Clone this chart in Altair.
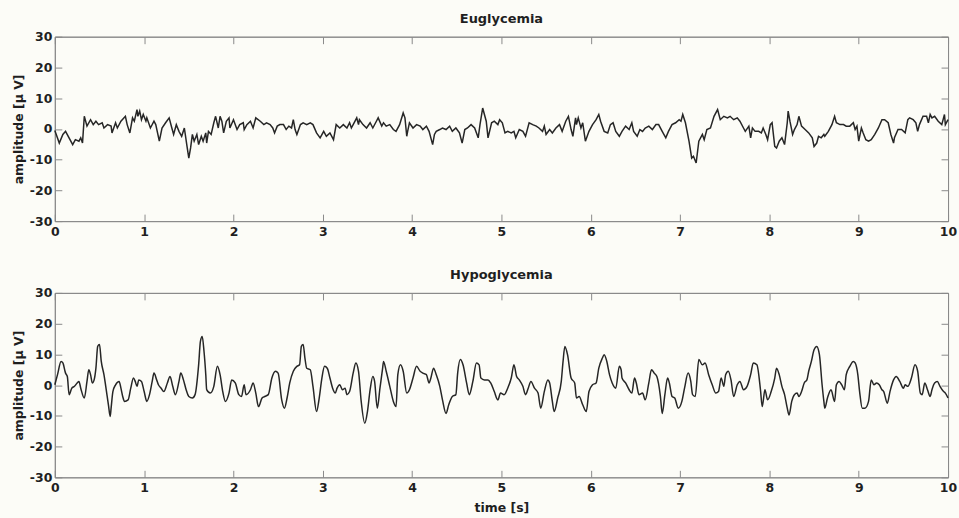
import altair as alt
import pandas as pd

FONT = "DejaVu Sans"
INK = "#1f1f1f"
FRAME = "#8a8a8a"
PAPER = "#fcfcf7"
TICK_IN = 7  # inward tick length in px

# axis tick positions
time_ticks = [0, 1, 2, 3, 4, 5, 6, 7, 8, 9, 10]
amp_ticks = [-30, -20, -10, 0, 10, 20, 30]

# EEG trace recorded during euglycemia (time in s, amplitude in microvolts)
eu_time = [
    0.00, 0.05, 0.09, 0.12, 0.20, 0.23, 0.27, 0.29, 0.31, 0.33, 0.36, 0.40, 0.43, 0.46, 0.49,
    0.53, 0.55, 0.59, 0.63, 0.64, 0.68, 0.70, 0.74, 0.79, 0.81, 0.84, 0.87, 0.89, 0.92, 0.93,
    0.95, 0.97, 0.99, 1.02, 1.03, 1.07, 1.11, 1.13, 1.17, 1.20, 1.24, 1.28, 1.31, 1.33, 1.36,
    1.39, 1.42, 1.45, 1.48, 1.50, 1.52, 1.54, 1.56, 1.59, 1.61, 1.64, 1.66, 1.69, 1.70, 1.72,
    1.75, 1.78, 1.80, 1.83, 1.85, 1.87, 1.89, 1.92, 1.95, 1.96, 2.00, 2.04, 2.07, 2.11, 2.12,
    2.15, 2.19, 2.22, 2.25, 2.30, 2.34, 2.37, 2.41, 2.44, 2.46, 2.49, 2.52, 2.56, 2.59, 2.62,
    2.65, 2.67, 2.69, 2.71, 2.75, 2.78, 2.82, 2.86, 2.89, 2.93, 2.97, 3.01, 3.04, 3.08, 3.12,
    3.15, 3.19, 3.23, 3.27, 3.30, 3.32, 3.34, 3.38, 3.40, 3.41, 3.45, 3.49, 3.53, 3.56, 3.60,
    3.62, 3.66, 3.68, 3.71, 3.75, 3.79, 3.82, 3.86, 3.90, 3.92, 3.94, 3.95, 3.97, 4.01, 4.05,
    4.09, 4.12, 4.16, 4.19, 4.23, 4.25, 4.27, 4.31, 4.34, 4.38, 4.42, 4.45, 4.49, 4.53, 4.56,
    4.59, 4.62, 4.66, 4.70, 4.74, 4.76, 4.79, 4.83, 4.85, 4.89, 4.92, 4.96, 4.98, 5.01, 5.04,
    5.07, 5.11, 5.14, 5.16, 5.20, 5.24, 5.27, 5.31, 5.35, 5.39, 5.42, 5.46, 5.48, 5.50, 5.54,
    5.57, 5.61, 5.65, 5.68, 5.72, 5.75, 5.78, 5.80, 5.83, 5.84, 5.86, 5.89, 5.91, 5.94, 5.98,
    6.02, 6.06, 6.09, 6.11, 6.15, 6.19, 6.22, 6.25, 6.28, 6.32, 6.35, 6.39, 6.43, 6.46, 6.48,
    6.52, 6.55, 6.58, 6.61, 6.65, 6.69, 6.73, 6.76, 6.80, 6.84, 6.87, 6.91, 6.95, 6.99, 7.01,
    7.03, 7.06, 7.10, 7.13, 7.15, 7.18, 7.21, 7.25, 7.27, 7.30, 7.34, 7.38, 7.42, 7.45, 7.49,
    7.53, 7.56, 7.60, 7.64, 7.67, 7.71, 7.73, 7.77, 7.79, 7.81, 7.84, 7.88, 7.91, 7.93, 7.96,
    7.98, 8.01, 8.03, 8.06, 8.08, 8.11, 8.14, 8.17, 8.20, 8.21, 8.23, 8.26, 8.28, 8.31, 8.33,
    8.36, 8.40, 8.44, 8.48, 8.50, 8.53, 8.55, 8.58, 8.61, 8.62, 8.66, 8.70, 8.73, 8.75, 8.79,
    8.83, 8.86, 8.90, 8.94, 8.96, 8.98, 9.00, 9.03, 9.05, 9.08, 9.11, 9.14, 9.18, 9.22, 9.26,
    9.29, 9.33, 9.36, 9.39, 9.40, 9.44, 9.48, 9.52, 9.55, 9.57, 9.61, 9.64, 9.66, 9.68, 9.72,
    9.76, 9.78, 9.80, 9.82, 9.85, 9.89, 9.93, 9.96, 9.97, 10.00,
]
eu_amp = [
    -0.5, -4.6, -1.8, -0.8, -5.1, -3.5, -4.0, -2.9, -4.6, 4.1, 0.9, 3.0, 1.4, 2.5, 1.4,
    2.0, 0.3, 1.4, 0.9, -1.3, 2.0, 0.3, 2.5, 4.1, 1.4, -1.3, 3.6, 2.5, 6.3, 4.1,
    5.8, 3.0, 4.7, 2.5, 3.6, 0.3, 2.5, 1.4, -4.0, 0.3, 2.0, 3.6, 0.3, -1.8, 1.4,
    -0.8, -2.4, 0.3, -5.7, -9.5, -6.2, -1.8, -4.0, -1.8, -5.1, -2.4, -4.0, -1.3, -4.6, -0.8,
    -1.8, 2.0, 4.1, 0.3, 4.1, 2.5, -1.3, 2.5, 3.6, 0.3, 3.0, -0.2, 1.4, 2.0, -0.2,
    1.4, 2.5, 0.3, 3.6, 2.5, 1.4, 2.0, 1.4, 0.3, -1.3, 0.9, 1.4, 1.4, -0.2, 0.9,
    0.3, 3.0, -0.2, -1.8, 1.4, 2.0, 1.4, 2.0, 1.4, -1.3, -2.9, -0.8, -2.4, -1.3, -3.5,
    1.4, 0.3, 1.4, 0.3, 2.0, 0.3, 1.4, 3.6, 1.4, 3.0, 1.4, 0.3, 2.0, 0.3, 2.5,
    3.6, 0.9, 2.0, 0.9, 1.4, -0.2, -0.8, 1.4, 5.2, 3.6, -2.4, -0.8, 2.0, 0.3, 1.4,
    0.9, -0.2, 0.9, -0.8, -5.1, -1.8, -0.8, -0.2, 0.3, -0.2, 0.9, -0.8, 0.3, -1.3, -4.6,
    -0.2, 0.3, 1.4, 0.3, -2.9, 1.4, 6.8, 2.5, -2.9, 2.0, 2.5, 1.4, 3.0, 2.0, -1.3,
    -0.8, -1.3, -0.8, -2.9, -0.2, -0.8, -2.4, 2.0, 1.4, 0.9, 0.3, -0.8, 0.9, -1.8, -0.2,
    -1.3, 0.3, 1.4, -0.8, 2.5, 4.1, -0.2, -2.4, 3.6, 1.4, 3.6, 0.3, 2.0, -4.0, -0.8,
    1.4, 3.0, 4.7, 2.5, -0.8, -1.3, 1.4, 2.0, -0.8, -2.4, -0.8, 0.9, -0.2, 2.0, -0.8,
    -2.4, -0.2, -0.8, 0.3, 0.9, -0.2, 1.4, 1.4, -0.8, -2.9, -0.8, 1.4, 2.0, 3.0, 2.5,
    4.7, 2.0, -4.0, -9.5, -8.9, -11.1, -4.0, -1.8, -3.5, -0.2, 0.3, 4.1, 6.3, 3.0, 4.1,
    3.6, 4.1, 3.0, 3.6, 2.5, 0.3, -0.8, 0.9, -2.9, 0.3, -0.8, -0.8, -1.3, 0.3, -1.8,
    -3.5, 1.4, 2.0, -5.7, -6.2, -4.0, -2.9, -5.1, 2.0, 5.8, 2.5, -1.8, -0.2, 1.4, 4.1,
    0.9, -0.2, -1.3, -2.9, -5.7, -4.6, -2.4, -2.9, -1.8, -2.4, -0.8, 1.4, 4.1, 2.0, 1.4,
    1.4, 0.9, 0.9, 2.0, -0.2, 0.9, -4.0, 0.3, -1.3, -3.5, -4.0, -3.5, -1.8, 0.3, 3.0,
    3.0, 2.0, -1.8, -4.6, -2.9, -0.2, -0.2, -1.3, 3.0, 3.6, 3.0, 2.0, -0.8, 1.4, 4.1,
    4.1, 2.0, 4.7, 3.6, 4.1, 2.5, 1.4, 4.7, 1.4, 3.0,
]

# EEG trace recorded during hypoglycemia
hypo_time = [
    0.00, 0.03, 0.07, 0.09, 0.12, 0.14, 0.16, 0.19, 0.22, 0.25, 0.27, 0.29, 0.33, 0.36, 0.38,
    0.40, 0.42, 0.44, 0.46, 0.48, 0.50, 0.52, 0.55, 0.57, 0.60, 0.62, 0.63, 0.65, 0.68, 0.72,
    0.74, 0.76, 0.78, 0.82, 0.85, 0.88, 0.90, 0.92, 0.94, 0.97, 1.00, 1.03, 1.06, 1.09, 1.11,
    1.14, 1.16, 1.19, 1.22, 1.26, 1.29, 1.32, 1.35, 1.39, 1.41, 1.44, 1.47, 1.50, 1.54, 1.57,
    1.61, 1.63, 1.65, 1.67, 1.69, 1.70, 1.74, 1.78, 1.82, 1.85, 1.88, 1.91, 1.95, 1.98, 2.02,
    2.06, 2.09, 2.12, 2.14, 2.19, 2.22, 2.25, 2.28, 2.32, 2.35, 2.39, 2.43, 2.47, 2.50, 2.54,
    2.57, 2.60, 2.63, 2.67, 2.71, 2.74, 2.76, 2.78, 2.80, 2.82, 2.86, 2.89, 2.93, 2.96, 2.99,
    3.02, 3.05, 3.08, 3.11, 3.14, 3.16, 3.19, 3.22, 3.25, 3.27, 3.30, 3.34, 3.37, 3.40, 3.43,
    3.47, 3.50, 3.53, 3.56, 3.58, 3.61, 3.64, 3.67, 3.68, 3.71, 3.75, 3.79, 3.82, 3.84, 3.87,
    3.90, 3.94, 3.97, 4.01, 4.05, 4.09, 4.12, 4.16, 4.19, 4.21, 4.24, 4.27, 4.31, 4.34, 4.38,
    4.41, 4.45, 4.49, 4.51, 4.54, 4.57, 4.61, 4.64, 4.68, 4.72, 4.75, 4.77, 4.81, 4.85, 4.88,
    4.92, 4.96, 4.99, 5.03, 5.07, 5.11, 5.14, 5.17, 5.20, 5.24, 5.27, 5.30, 5.33, 5.37, 5.41,
    5.44, 5.48, 5.52, 5.54, 5.57, 5.59, 5.63, 5.67, 5.69, 5.71, 5.74, 5.78, 5.82, 5.84, 5.87,
    5.91, 5.95, 5.98, 6.02, 6.06, 6.09, 6.13, 6.15, 6.18, 6.21, 6.24, 6.28, 6.32, 6.34, 6.35,
    6.39, 6.43, 6.46, 6.49, 6.51, 6.54, 6.58, 6.61, 6.65, 6.68, 6.71, 6.74, 6.78, 6.80, 6.83,
    6.86, 6.88, 6.91, 6.94, 6.98, 7.02, 7.05, 7.09, 7.12, 7.14, 7.17, 7.21, 7.25, 7.28, 7.32,
    7.36, 7.40, 7.43, 7.46, 7.49, 7.51, 7.54, 7.57, 7.60, 7.64, 7.67, 7.71, 7.75, 7.79, 7.82,
    7.86, 7.90, 7.92, 7.95, 7.98, 8.02, 8.06, 8.08, 8.11, 8.14, 8.17, 8.20, 8.22, 8.25, 8.28,
    8.31, 8.33, 8.36, 8.39, 8.42, 8.44, 8.47, 8.50, 8.53, 8.56, 8.59, 8.61, 8.62, 8.65, 8.69,
    8.73, 8.75, 8.78, 8.81, 8.84, 8.86, 8.90, 8.94, 8.96, 8.99, 9.01, 9.04, 9.07, 9.11, 9.14,
    9.17, 9.20, 9.23, 9.26, 9.28, 9.32, 9.35, 9.39, 9.42, 9.46, 9.50, 9.52, 9.55, 9.59, 9.63,
    9.66, 9.69, 9.71, 9.74, 9.77, 9.80, 9.82, 9.85, 9.88, 9.91, 9.95, 9.97, 10.00,
]
hypo_amp = [
    0.1, 3.4, 7.7, 7.2, 3.9, 2.8, -3.1, -1.0, -0.4, 0.7, 1.2, -1.0, -4.2, 1.2, 5.0,
    3.4, 0.7, 1.7, 5.5, 12.6, 13.2, 7.7, 3.4, -0.4, -6.4, -10.2, -7.5, -2.1, 0.1, 1.2,
    -1.0, -3.7, -5.3, -4.8, -1.0, 2.3, 1.2, -0.4, 1.7, 1.2, -2.1, -5.3, -3.1, 1.2, 3.9,
    1.7, 0.1, -1.0, -2.1, 0.7, 2.8, -0.4, -3.1, 1.2, 3.9, 1.7, -1.5, -3.7, -4.2, -3.1,
    6.6, 14.2, 15.8, 11.0, 3.4, -1.5, -2.6, -0.4, 6.1, 3.4, -2.1, -5.3, -2.6, 1.7, 0.7,
    -3.1, -3.7, 0.1, -3.1, -1.5, 0.7, -2.6, -7.0, -4.2, -3.7, -3.1, 2.3, 4.5, 3.9, -4.8,
    -7.5, -4.2, 0.7, 4.5, 6.1, 6.6, 12.6, 13.2, 8.8, 5.5, 5.0, -0.4, -8.6, -4.2, 2.3,
    6.1, 5.5, 2.3, -1.0, -2.6, -1.0, 0.1, -1.5, -1.0, -3.1, -2.1, 3.9, 7.2, 4.5, -5.3,
    -12.4, -8.6, -1.5, 2.8, 1.2, -7.5, -1.0, 5.5, 7.7, 4.5, -0.4, -5.3, -7.0, 3.4, 6.6,
    4.5, -2.6, -1.5, 2.3, 6.1, 4.5, 3.9, 3.4, 0.7, 2.3, 5.5, 3.4, -0.4, -4.8, -9.2,
    -6.4, -3.7, -3.1, 3.9, 8.3, 6.6, 0.7, -3.1, 1.2, 7.2, 6.6, 2.3, 1.7, 1.7, 0.7,
    -2.1, -4.8, -2.6, -3.1, -1.0, 2.3, 6.6, 2.8, 1.7, -0.4, -3.1, -1.0, 1.2, -1.0, -2.6,
    -7.5, -2.1, 1.7, 0.7, -5.3, -8.6, -4.2, 1.2, 7.7, 12.6, 9.9, 2.3, 0.7, -4.2, -3.7,
    -6.4, -8.6, -2.1, 0.1, 0.7, 5.5, 8.8, 9.9, 7.7, 3.4, 0.7, -1.0, 6.1, 5.0, 2.3,
    0.7, -1.5, -2.6, 2.3, 0.7, -3.1, -2.6, -4.8, 0.7, 5.0, 3.9, 2.8, -3.7, -9.2, -3.1,
    2.3, 0.7, -3.7, -4.2, -7.5, -5.3, -1.0, 3.9, 1.2, -3.1, -3.7, 8.3, 6.6, 7.2, 3.4,
    0.1, -2.6, -2.1, 2.3, -0.4, 3.4, 4.5, 1.7, -3.7, 0.1, 1.2, -1.5, -0.4, 3.4, 7.2,
    6.6, -1.5, -7.0, -1.5, -4.8, -2.1, 2.3, 5.5, 3.4, -0.4, -3.1, -7.5, -9.7, -5.3, -3.1,
    -2.6, -3.7, -2.1, 0.7, 1.7, 4.5, 7.7, 11.5, 12.6, 9.9, 0.1, -5.3, -7.5, -4.2, -1.5,
    -5.3, 0.1, 1.2, 0.1, -1.5, 3.4, 6.1, 7.7, 7.2, 3.4, -2.1, -7.5, -7.5, -5.3, 1.7,
    0.1, 0.7, 0.1, -1.5, -2.1, -5.9, -2.1, 1.7, 2.8, 1.2, -1.0, 0.1, -0.4, 2.3, 6.6,
    4.5, -2.6, -3.1, 0.7, -1.5, -3.7, -1.5, 0.7, 1.2, -0.4, -2.1, -2.6, -4.2,
]


def frame_axis(**kw):
    """Axis styled like a boxed plot frame with inward ticks."""
    base = dict(
        grid=False,
        domainColor=FRAME,
        domainWidth=1,
        tickColor=FRAME,
        tickWidth=1,
        tickSize={"expr": str(-TICK_IN)},
        labelFlush=False,
        labelOverlap=False,
        labelFont=FONT,
        labelFontWeight="bold",
        labelFontSize=12.5,
        labelColor=INK,
        # plain integers with an ASCII hyphen for negatives
        labelExpr="(datum.value < 0 ? '-' : '') + abs(datum.value)",
    )
    base.update(kw)
    return alt.Axis(**base)


def panel(times, amps, name, with_time_title, curve):
    df = pd.DataFrame({"t": times, "a": amps})
    x_scale = alt.Scale(domain=[0, 10], nice=False, zero=False)
    y_scale = alt.Scale(domain=[-30, 30], nice=False, zero=False)

    # label offset counts from the inward tick end, so add the tick length back
    if with_time_title:
        x_axis = frame_axis(
            values=time_ticks, labelPadding=TICK_IN + 4,
            title="time [s]", titleFont=FONT, titleFontWeight="bold",
            titleFontSize=12.5, titleColor=INK,
            titleX=448, titleY=30, titleBaseline="middle", titleAlign="center",
        )
        x_enc = alt.X("t:Q", scale=x_scale, axis=x_axis)
    else:
        x_axis = frame_axis(values=time_ticks, labelPadding=TICK_IN + 4)
        x_enc = alt.X("t:Q", scale=x_scale, axis=x_axis, title=None)

    y_axis = frame_axis(
        values=amp_ticks, labelPadding=TICK_IN + 3,
        title="amplitude [μ V]", titleFont=FONT, titleFontWeight="bold",
        titleFontSize=12.5, titleColor=INK,
        titleAngle=270, titleX=-36, titleY=92.5,
        titleBaseline="middle", titleAlign="center",
    )

    trace = alt.Chart(df).mark_line(color="#262626", strokeWidth=1.5, interpolate=curve).encode(
        x=x_enc,
        y=alt.Y("a:Q", scale=y_scale, axis=y_axis),
    )

    # invisible copy carrying the top and right frame axes
    mirror = alt.Chart(df).mark_line(opacity=0).encode(
        x=alt.X("t:Q", scale=x_scale, title=None,
                axis=frame_axis(orient="top", values=time_ticks, labels=False)),
        y=alt.Y("a:Q", scale=y_scale, title=None,
                axis=frame_axis(orient="right", values=amp_ticks, labels=False)),
    )

    return (
        alt.layer(trace, mirror)
        .resolve_axis(x="independent", y="independent")
        .properties(
            width=896,
            height=185,
            title=alt.TitleParams(
                text=name, font=FONT, fontSize=13, fontWeight="bold",
                color=INK, anchor="middle", offset=-8, baseline="bottom",
            ),
        )
    )


chart = (
    alt.vconcat(
        panel(eu_time, eu_amp, "Euglycemia", False, "linear"),
        panel(hypo_time, hypo_amp, "Hypoglycemia", True, "monotone"),
        spacing=72,
        bounds="flush",
        padding={"left": 12, "top": 11, "right": 1, "bottom": 4},
    )
    .configure(background=PAPER)
    .configure_view(stroke=FRAME, strokeWidth=1, fill=PAPER)
)

chart.save("out.html", embed_options={"renderer": "svg", "actions": False})
